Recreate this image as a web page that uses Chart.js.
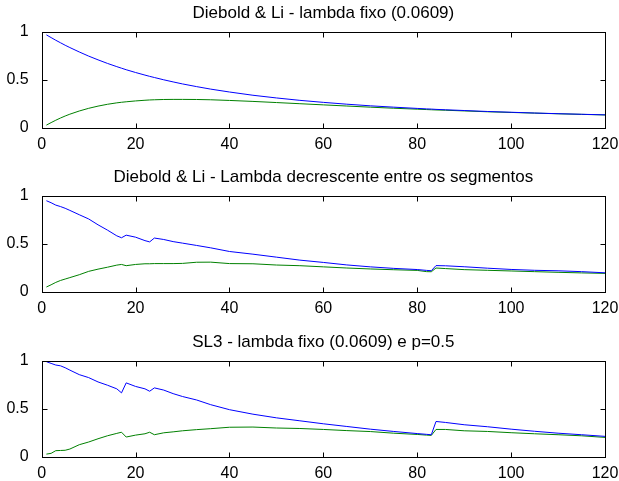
<!DOCTYPE html>
<html>
<head>
<meta charset="utf-8">
<script src="https://cdn.jsdelivr.net/npm/chart.js@4.4.1/dist/chart.umd.min.js"></script>
<style>
  html, body { margin: 0; padding: 0; background: #fff; overflow: hidden; }
  .panel { position: absolute; left: 0; width: 619px; height: 150px; }
</style>
</head>
<body>
<div class="panel" style="top:0px"><canvas id="c1" width="619" height="150"></canvas></div>
<div class="panel" style="top:164px"><canvas id="c2" width="619" height="150"></canvas></div>
<div class="panel" style="top:329px"><canvas id="c3" width="619" height="150"></canvas></div>
<script>
const maturities = [1, 2, 3, 4, 5, 6, 8, 10, 12, 14, 16, 17, 18, 20, 22, 23, 24, 26, 28, 30,
  33, 36, 40, 45, 50, 55, 60, 65, 70, 75, 80, 82, 83, 84, 86, 90, 95, 100, 105, 110, 115, 120];

const titles = [
  "Diebold & Li - lambda fixo (0.0609)",
  "Diebold & Li - Lambda decrescente entre os segmentos",
  "SL3 - lambda fixo (0.0609) e p=0.5"
];

// painel 1
const fixoAzul = [0.970, 0.942, 0.914, 0.888, 0.862, 0.838, 0.792, 0.749, 0.710, 0.673, 0.639, 0.623, 0.607, 0.578, 0.551, 0.538, 0.526, 0.502, 0.480, 0.459,
  0.431, 0.405, 0.375, 0.341, 0.313, 0.288, 0.267, 0.248, 0.231, 0.217, 0.204, 0.199, 0.197, 0.194, 0.190, 0.182, 0.172, 0.164, 0.156, 0.149, 0.143, 0.137];
const fixoVerde = [0.030, 0.056, 0.081, 0.104, 0.125, 0.144, 0.177, 0.205, 0.228, 0.247, 0.262, 0.268, 0.273, 0.282, 0.289, 0.292, 0.294, 0.297, 0.298, 0.298,
  0.297, 0.294, 0.287, 0.277, 0.265, 0.253, 0.241, 0.229, 0.217, 0.206, 0.196, 0.192, 0.190, 0.188, 0.185, 0.178, 0.169, 0.162, 0.155, 0.148, 0.142, 0.136];

// painel 2
const decAzul = [0.951, 0.930, 0.905, 0.890, 0.872, 0.850, 0.805, 0.761, 0.700, 0.645, 0.585, 0.565, 0.592, 0.571, 0.535, 0.522, 0.562, 0.547, 0.525, 0.509,
  0.485, 0.460, 0.422, 0.394, 0.363, 0.332, 0.308, 0.282, 0.262, 0.246, 0.234, 0.225, 0.222, 0.275, 0.273, 0.263, 0.248, 0.235, 0.226, 0.221, 0.212, 0.200];
const decVerde = [0.052, 0.075, 0.100, 0.120, 0.135, 0.150, 0.180, 0.215, 0.238, 0.258, 0.280, 0.287, 0.274, 0.287, 0.294, 0.294, 0.296, 0.296, 0.296, 0.298,
  0.310, 0.311, 0.296, 0.294, 0.281, 0.274, 0.262, 0.250, 0.240, 0.232, 0.225, 0.212, 0.211, 0.250, 0.244, 0.233, 0.226, 0.219, 0.212, 0.205, 0.199, 0.194];

// painel 3
const sl3Azul = [0.993, 0.975, 0.958, 0.950, 0.930, 0.905, 0.858, 0.827, 0.782, 0.748, 0.710, 0.668, 0.772, 0.735, 0.710, 0.685, 0.720, 0.697, 0.660, 0.630,
  0.594, 0.545, 0.493, 0.446, 0.408, 0.377, 0.346, 0.318, 0.290, 0.266, 0.244, 0.236, 0.232, 0.370, 0.360, 0.336, 0.315, 0.290, 0.268, 0.248, 0.232, 0.215];
const sl3Verde = [0.030, 0.038, 0.066, 0.068, 0.070, 0.083, 0.128, 0.156, 0.190, 0.221, 0.246, 0.258, 0.208, 0.228, 0.242, 0.258, 0.232, 0.252, 0.262, 0.273,
  0.285, 0.295, 0.310, 0.312, 0.302, 0.297, 0.287, 0.275, 0.265, 0.248, 0.235, 0.228, 0.225, 0.287, 0.287, 0.273, 0.266, 0.253, 0.242, 0.232, 0.221, 0.204];

const xTicks = [0, 20, 40, 60, 80, 100, 120];
const yTicks = [0, 0.5, 1];

const FONT = "'Liberation Sans', Arial, Helvetica, sans-serif";

// caixa estilo matlab com marcas de escala para dentro
const matlabBox = {
  id: 'matlabBox',
  afterDraw(chart) {
    const { ctx, chartArea: a, scales } = chart;
    const L = Math.round(a.left) + 0.5, R = Math.round(a.right) + 0.5;
    const T = Math.round(a.top) + 0.5, B = Math.round(a.bottom) + 0.5;
    ctx.save();
    ctx.strokeStyle = '#000';
    ctx.lineWidth = 1;
    ctx.strokeRect(L, T, R - L, B - T);
    ctx.beginPath();
    scales.x.ticks.forEach(t => {
      const px = Math.round(scales.x.getPixelForValue(t.value)) + 0.5;
      ctx.moveTo(px, B); ctx.lineTo(px, B - 5);
      ctx.moveTo(px, T); ctx.lineTo(px, T + 5);
    });
    scales.y.ticks.forEach(t => {
      const py = Math.round(scales.y.getPixelForValue(t.value)) + 0.5;
      ctx.moveTo(L, py); ctx.lineTo(L + 5, py);
      ctx.moveTo(R, py); ctx.lineTo(R - 5, py);
    });
    ctx.stroke();
    ctx.restore();
  }
};

function serie(valores) {
  return maturities.map((m, i) => ({ x: m, y: valores[i] }));
}

function painel(id, titulo, azul, verde) {
  return new Chart(document.getElementById(id), {
    type: 'line',
    data: {
      datasets: [
        { data: serie(azul), borderColor: '#0000ff', borderWidth: 1, pointRadius: 0, tension: 0, fill: false },
        { data: serie(verde), borderColor: '#008000', borderWidth: 1, pointRadius: 0, tension: 0, fill: false }
      ]
    },
    options: {
      responsive: false,
      animation: false,
      devicePixelRatio: 1,
      layout: { padding: { left: 0, right: 14, top: 0, bottom: 0 } },
      plugins: {
        legend: { display: false },
        tooltip: { enabled: false },
        title: {
          display: true,
          fullSize: false,
          text: titulo,
          color: '#000',
          font: { family: FONT, size: 17, weight: 'normal', lineHeight: 1.2 },
          padding: { top: 3, bottom: 8.6 }
        }
      },
      scales: {
        x: {
          type: 'linear',
          min: 0, max: 120,
          afterBuildTicks: s => { s.ticks = xTicks.map(v => ({ value: v })); },
          afterFit: s => { s.height = 22; },
          grid: { display: false },
          border: { display: false },
          ticks: { color: '#000', font: { family: FONT, size: 16 }, padding: -1, maxRotation: 0, autoSkip: false }
        },
        y: {
          type: 'linear',
          min: 0, max: 1,
          afterBuildTicks: s => { s.ticks = yTicks.map(v => ({ value: v })); },
          afterFit: s => { s.width = 41.7; },
          grid: { display: false },
          border: { display: false },
          ticks: { color: '#000', font: { family: FONT, size: 16 }, padding: 5, callback: v => String(v) }
        }
      }
    },
    plugins: [matlabBox]
  });
}

painel('c1', titles[0], fixoAzul, fixoVerde);
painel('c2', titles[1], decAzul, decVerde);
painel('c3', titles[2], sl3Azul, sl3Verde);
</script>
</body>
</html>
